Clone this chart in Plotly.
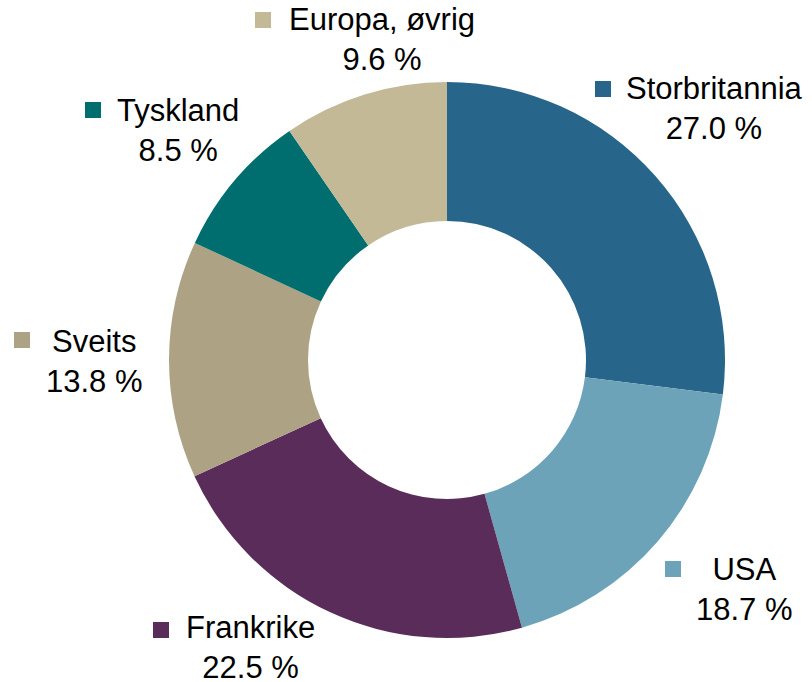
import plotly.graph_objects as go

# Andeler per region (prosent), med klokken fra kl. 12
regions = ["Storbritannia", "USA", "Frankrike", "Sveits", "Tyskland", "Europa, øvrig"]
shares = [27.0, 18.7, 22.5, 13.8, 8.5, 9.6]
share_labels = ["27.0 %", "18.7 %", "22.5 %", "13.8 %", "8.5 %", "9.6 %"]

COLORS = ["#27668a", "#6ca3b8", "#5a2c5a", "#ada283", "#006e6e", "#c4b996"]
FONT = "Liberation Sans, Arial, sans-serif"
W, H = 812, 682

# label placement in pixels: text centre x, block centre y, square left x, square top y
LABEL_POS = [
    (714, 109, 595, 81),
    (744, 589, 665, 561),
    (250, 647, 153, 622),
    (94, 361, 14, 332),
    (178, 130, 85, 102),
    (382, 40, 255, 12),
]
SQ = 16

fig = go.Figure(go.Pie(
    labels=regions,
    values=shares,
    sort=False,
    direction="clockwise",
    rotation=0,
    hole=0.5,
    marker=dict(colors=COLORS, line=dict(width=0)),
    textinfo="none",
    hoverinfo="label+percent",
    showlegend=False,
    domain=dict(x=[169 / W, 725 / W], y=[1 - 638 / H, 1 - 82 / H]),
))

for name, pct, col, (cx, cy, sx, sy) in zip(regions, share_labels, COLORS, LABEL_POS):
    fig.add_annotation(
        x=cx / W, y=1 - cy / H, xref="paper", yref="paper",
        xanchor="center", yanchor="middle",
        text=f"{name}<br>{pct}", showarrow=False, align="center",
        font=dict(family=FONT, size=31, color="#000000"),
    )
    fig.add_shape(
        type="rect", xref="paper", yref="paper",
        x0=sx / W, x1=(sx + SQ) / W, y0=1 - (sy + SQ) / H, y1=1 - sy / H,
        fillcolor=col, line=dict(width=0),
    )

fig.update_layout(
    width=W, height=H,
    margin=dict(l=0, r=0, t=0, b=0),
    paper_bgcolor="#ffffff",
    plot_bgcolor="#ffffff",
    font=dict(family=FONT),
)

# la figuren starte helt i hjørnet av siden
fig.write_html("out.html", config={"displayModeBar": False},
               post_script="document.body.style.margin='0';")
